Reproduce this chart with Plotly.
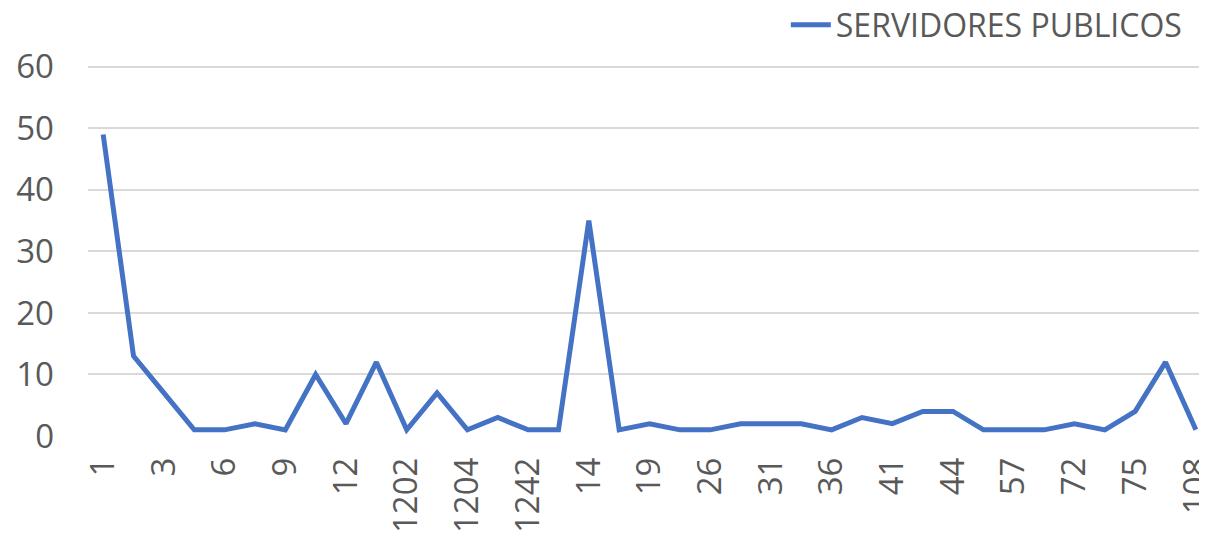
import plotly.graph_objects as go

categories = ["1", "2", "3", "4", "6", "7", "9", "10", "12", "1201", "1202", "1203",
              "1204", "1241", "1242", "13", "14", "18", "19", "25", "26", "30", "31",
              "35", "36", "40", "41", "43", "44", "56", "57", "71", "72", "74", "75",
              "107", "108"]
values = [49, 13, 7, 1, 1, 2, 1, 10, 2, 12, 1, 7, 1, 3, 1, 1, 35, 1, 2, 1, 1, 2, 2, 2,
          1, 3, 2, 4, 4, 1, 1, 1, 2, 1, 4, 12, 1]
series_name = "SERVIDORES PUBLICOS"
tick_labels = categories[::2]
y_ticks = [0, 10, 20, 30, 40, 50, 60]

font_family = "Open Sans, Liberation Sans, sans-serif"
text_color = "#595959"

fig = go.Figure()
fig.add_trace(go.Scatter(
    x=categories, y=values, mode="lines", name=series_name,
    line=dict(color="#4472C4", width=5),
))

# page body has an 8px default margin; figure is sized to fill the rest
fig.update_layout(
    width=1199, height=525,
    margin=dict(l=80, r=2, t=57, b=97, autoexpand=False),
    paper_bgcolor="white", plot_bgcolor="white",
    showlegend=True,
    legend=dict(orientation="h", xref="container", yref="container",
                x=0.984, xanchor="right", y=0.9676, yanchor="middle",
                font=dict(family=font_family, size=32, color=text_color),
                itemwidth=40, bgcolor="rgba(0,0,0,0)"),
    xaxis=dict(type="category", tickmode="array", tickvals=tick_labels, ticktext=tick_labels,
               tickangle=-90, range=[-0.5, 36.3], showgrid=False, zeroline=False,
               showline=False, ticks="", automargin=False, ticklabelstandoff=14,
               tickfont=dict(family=font_family, size=33, color=text_color)),
    yaxis=dict(range=[0, 60.3], tickvals=y_ticks, showgrid=True, gridcolor="#D9D9D9",
               gridwidth=2, zeroline=False, showline=False, ticks="", automargin=False,
               ticklabelstandoff=33,
               tickfont=dict(family=font_family, size=33, color=text_color)),
)

fig.write_html("out.html")
